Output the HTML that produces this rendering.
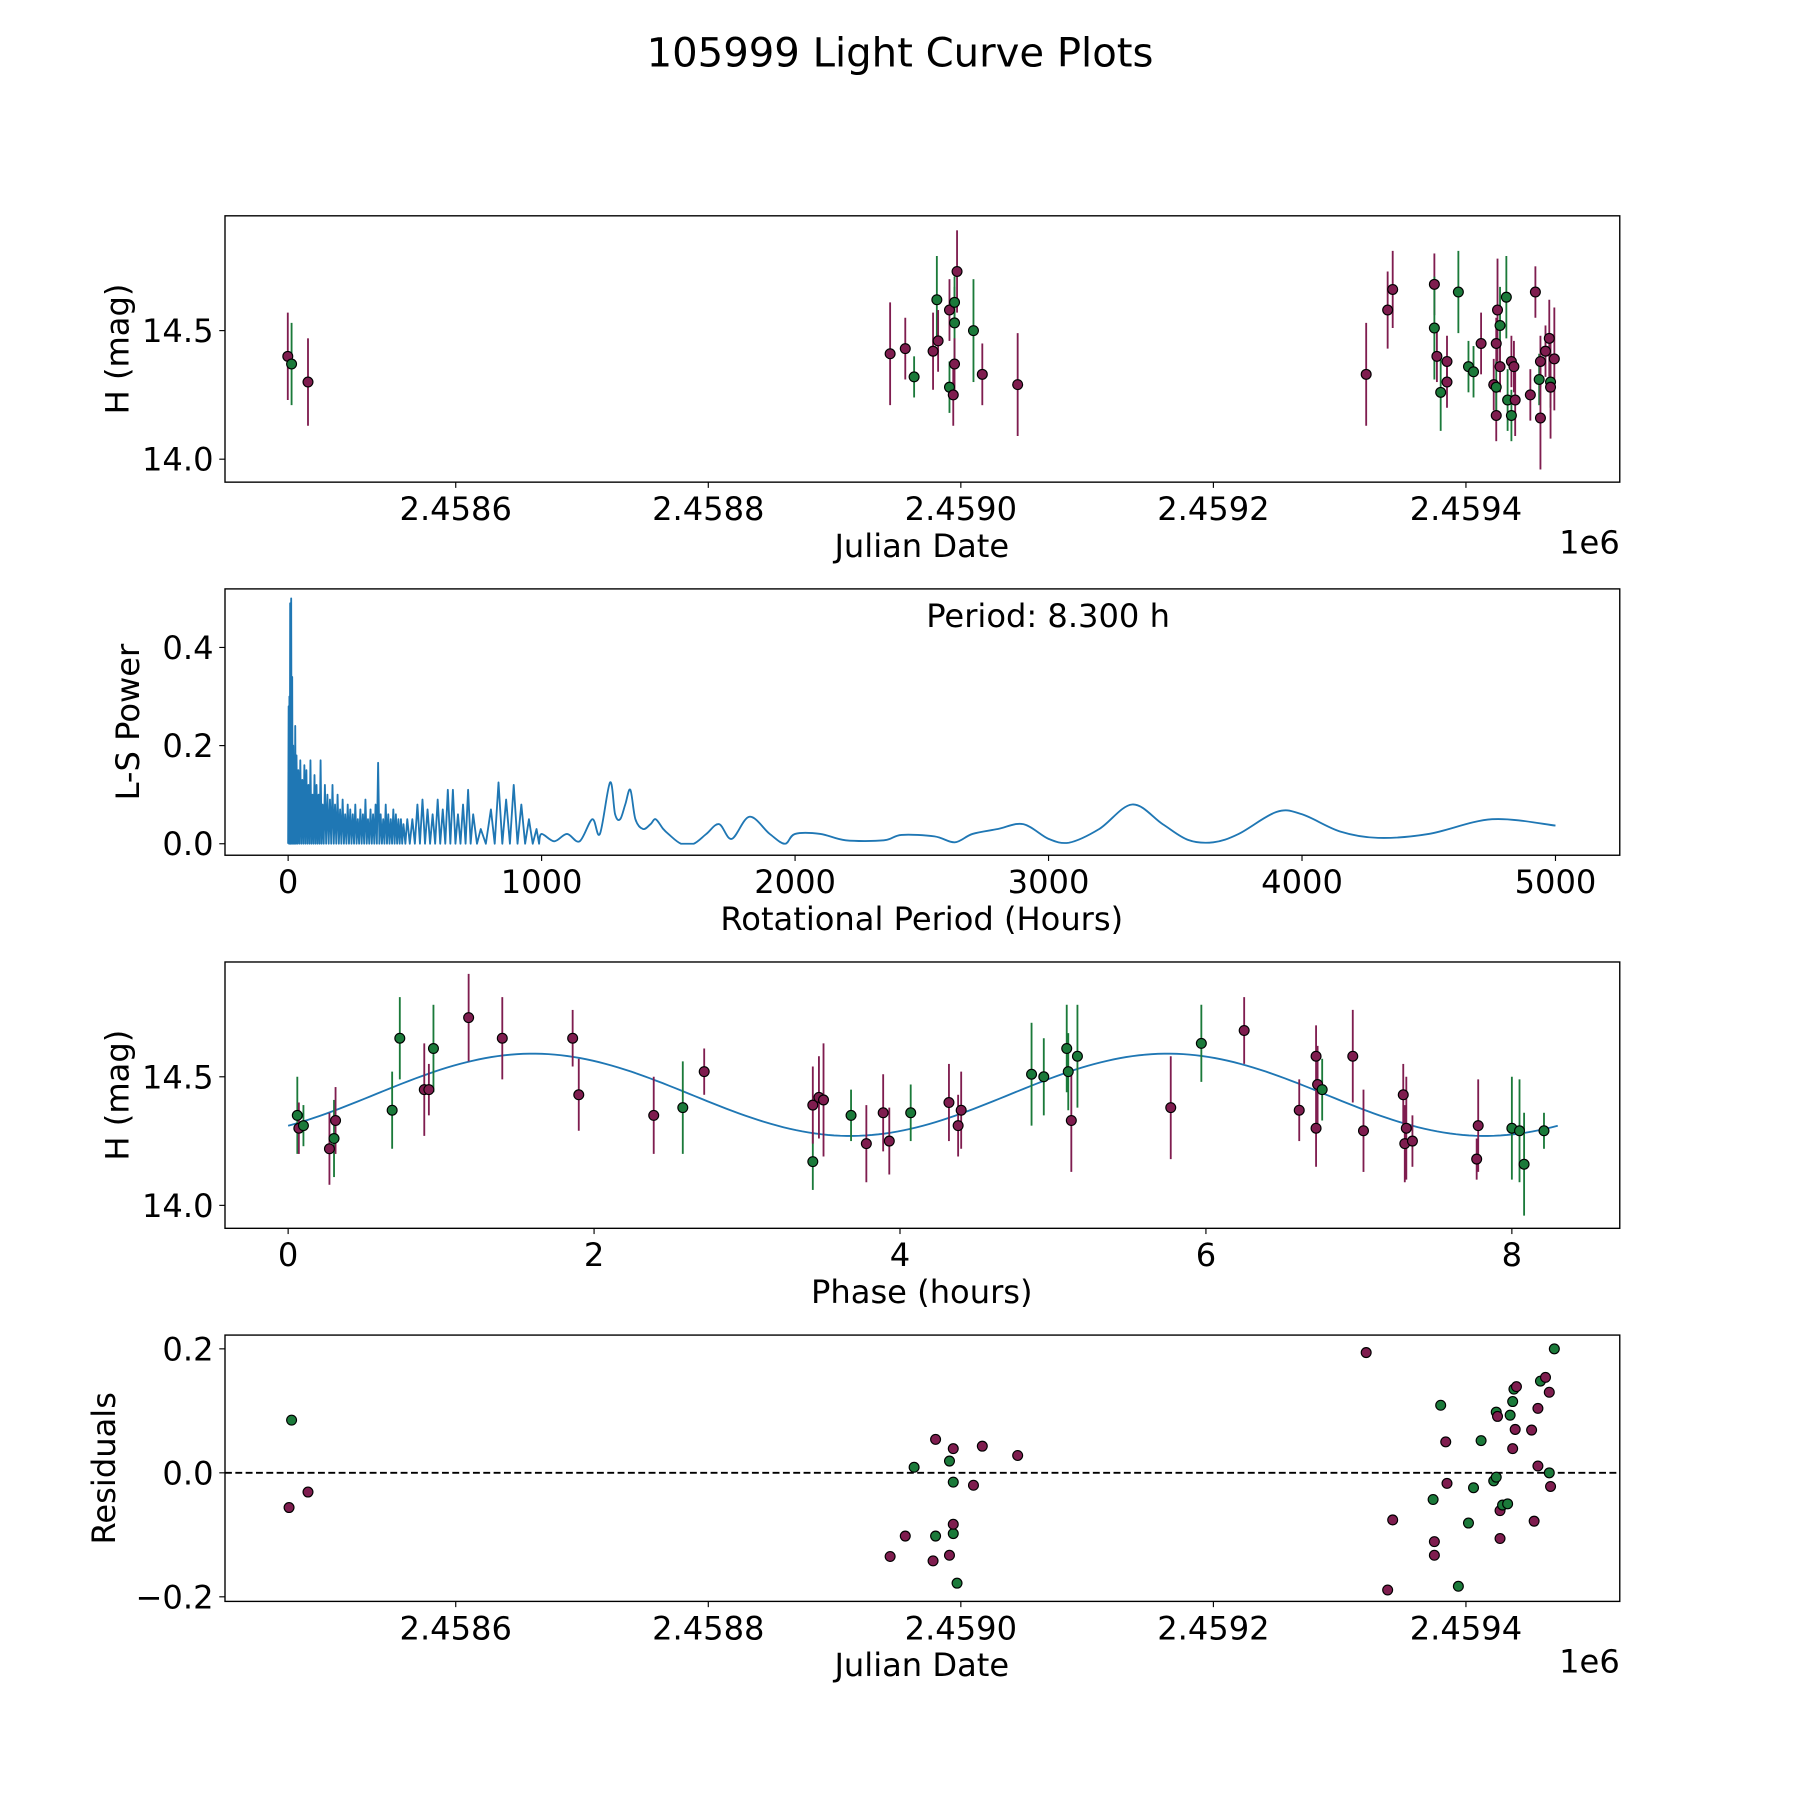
<!DOCTYPE html>
<html><head><meta charset="utf-8">
<style>
html,body{margin:0;padding:0;background:#fff;}
svg{display:block;font-family:"DejaVu Sans","Liberation Sans",sans-serif;}
</style></head>
<body>
<svg id="fig" width="1800" height="1800" viewBox="0 0 1568 1568" xmlns="http://www.w3.org/2000/svg">
<rect width="1568" height="1568" fill="#fff"/>
<text x="784" y="58" font-size="35" text-anchor="middle">105999 Light Curve Plots</text>
</svg>
<script>
// ---- data (days relative to JD 2458600) ----
const jdDays = [-133,-130,-117,344,356,363,378,381,382,391,391,394,395,395,395,397,410,417,445,721,738,742,775,775,777,780,785,785,794,802,806,812,822,824,824,824,825,827,827,832,833,836,836,838,839,851,855,858,859,859,863,866,867,867,870];
const jdMag = [14.40,14.37,14.30,14.41,14.43,14.32,14.42,14.62,14.46,14.58,14.28,14.25,14.61,14.53,14.37,14.73,14.50,14.33,14.29,14.33,14.58,14.66,14.68,14.51,14.40,14.26,14.38,14.30,14.65,14.36,14.34,14.45,14.29,14.45,14.17,14.28,14.58,14.52,14.36,14.63,14.23,14.17,14.38,14.36,14.23,14.25,14.65,14.31,14.16,14.38,14.42,14.47,14.30,14.28,14.39];
const jdErr = [0.17,0.16,0.17,0.2,0.12,0.08,0.15,0.17,0.12,0.12,0.1,0.12,0.1,0.14,0.1,0.16,0.2,0.12,0.2,0.2,0.15,0.15,0.12,0.2,0.1,0.15,0.1,0.1,0.16,0.1,0.1,0.12,0.1,0.1,0.1,0.1,0.2,0.15,0.1,0.16,0.12,0.1,0.1,0.1,0.14,0.1,0.1,0.1,0.2,0.1,0.1,0.15,0.1,0.2,0.2];
const jdBand = "mgmmmgmgmmgmggmmgmmmmmmgmgmmgggmmmmgmgmgggmmmmmgmmmmgmm";

const resDays = [-132,-130,-117,344,356,363,378,380,380,391,391,394,394,394,394,397,410,417,445,721,738,742,774,775,775,780,784,785,794,802,806,812,822,824,824,825,827,827,829,833,835,837,837,839,838,840,852,854,857,857,859,863,866,867,866,870];
const resVal = [-0.056,0.085,-0.031,-0.135,-0.102,0.009,-0.142,0.054,-0.102,-0.133,0.019,-0.098,-0.015,0.039,-0.083,-0.178,-0.02,0.043,0.028,0.194,-0.189,-0.076,-0.043,-0.111,-0.133,0.109,0.05,-0.017,-0.183,-0.081,-0.024,0.052,-0.013,-0.007,0.098,0.091,-0.106,-0.061,-0.052,-0.05,0.093,0.115,0.039,0.07,0.135,0.139,0.069,-0.078,0.104,0.011,0.148,0.154,0.0,-0.022,0.13,0.2];
const resBand = "mgmmmgmmgmgggmmgmmmmmmgmmgmmgggggggmmmggggmmgmmmmmgmgmmgm";

const phase = [0.06,0.07,0.10,0.27,0.30,0.31,0.68,0.73,0.89,0.92,0.95,1.18,1.40,1.86,1.90,2.39,2.58,2.72,3.43,3.43,3.47,3.50,3.68,3.78,3.89,3.93,4.07,4.32,4.38,4.40,4.86,4.94,5.09,5.10,5.12,5.16,5.77,5.97,6.25,6.61,6.72,6.72,6.73,6.76,6.96,7.03,7.29,7.30,7.31,7.35,7.77,7.78,8.00,8.05,8.08,8.21];
const phMag = [14.35,14.30,14.31,14.22,14.26,14.33,14.37,14.65,14.45,14.45,14.61,14.73,14.65,14.65,14.43,14.35,14.38,14.52,14.17,14.39,14.42,14.41,14.35,14.24,14.36,14.25,14.36,14.40,14.31,14.37,14.51,14.50,14.61,14.52,14.33,14.58,14.38,14.63,14.68,14.37,14.58,14.30,14.47,14.45,14.58,14.29,14.43,14.24,14.30,14.25,14.18,14.31,14.30,14.29,14.16,14.29];
const phErr = [0.15,0.1,0.08,0.14,0.15,0.13,0.15,0.16,0.18,0.1,0.17,0.17,0.16,0.11,0.14,0.15,0.18,0.09,0.11,0.15,0.16,0.22,0.1,0.15,0.15,0.13,0.11,0.15,0.12,0.15,0.2,0.15,0.17,0.15,0.2,0.2,0.2,0.15,0.13,0.12,0.12,0.15,0.15,0.12,0.18,0.16,0.12,0.15,0.2,0.1,0.08,0.18,0.2,0.2,0.2,0.07];
const phBand = "gmgmgmggmmgmmmmmgmgmmmgmmmgmmmggggmgmgmmmmmgmmmmmmmmgggg";

const fitMean = [14.43];
const fitAmp = [0.16];
const fitPeak = [1.6];
const fitPeriod = [8.3];

// periodogram spiky region: peak periods and powers (troughs at zero between)
const spikePeriods = [2,5,8,12,16,20,24,28,33,40,48,56,64,72,80,88,96,104,112,120,128,136,145,155,165,175,185,195,205,215,225,235,245,255,265,275,285,295,305,315,325,335,345,355,365,375,385,395,405,415,425,435,445,455,470,490,510,530,550,570,590,610,630,650,670,690,710,730,760,800,830,860,890,920,950,980];
const spikePowers = [0.28,0.3,0.49,0.5,0.34,0.2,0.17,0.24,0.18,0.15,0.17,0.13,0.16,0.15,0.12,0.17,0.1,0.14,0.12,0.1,0.17,0.08,0.12,0.1,0.09,0.12,0.08,0.1,0.07,0.09,0.06,0.08,0.07,0.06,0.08,0.05,0.07,0.06,0.09,0.05,0.07,0.06,0.08,0.165,0.06,0.05,0.08,0.06,0.05,0.07,0.06,0.05,0.05,0.04,0.05,0.05,0.08,0.09,0.07,0.06,0.09,0.07,0.11,0.11,0.06,0.08,0.11,0.06,0.03,0.07,0.125,0.09,0.12,0.08,0.05,0.03];
// smooth long-period region
const smoothPeriods = [1000,1050,1100,1150,1200,1230,1270,1290,1310,1330,1350,1370,1400,1430,1450,1480,1500,1550,1600,1650,1700,1750,1820,1900,1960,2000,2100,2200,2350,2420,2550,2630,2700,2800,2900,3000,3080,3200,3330,3450,3550,3650,3750,3900,4000,4150,4300,4500,4750,5000];
const smoothPowers = [0.02,0.005,0.02,0.005,0.05,0.02,0.125,0.06,0.05,0.08,0.11,0.05,0.03,0.04,0.05,0.03,0.02,0.0,0.0,0.02,0.04,0.01,0.055,0.02,0.0,0.02,0.02,0.007,0.007,0.018,0.015,0.003,0.02,0.03,0.04,0.01,0.002,0.03,0.08,0.04,0.008,0.003,0.02,0.065,0.06,0.025,0.012,0.02,0.05,0.037];

const jdTicks = ["2.4586","2.4588","2.4590","2.4592","2.4594"];
const jdTickDays = [0,200,400,600,800];
const magTicks = [14.0,14.5];
const lsXTicks = [0,1000,2000,3000,4000,5000];
const lsYTicks = [0,0.2,0.4];
const phXTicks = [0,2,4,6,8];
const resTicks = [-0.2,0,0.2];

// ---- drawing ----
const NS = "http://www.w3.org/2000/svg";
const svg = document.getElementById('fig');
const COL = {m:"#7f1d4f", g:"#1b7a3a"};
const FS = 28;
function mk(tag, attrs, parent){const e=document.createElementNS(NS,tag);for(const k in attrs)e.setAttribute(k,attrs[k]);(parent||svg).appendChild(e);return e;}
function txt(s,x,y,size,anchor,parent){const t=mk('text',{x:x,y:y,'font-size':size,'text-anchor':anchor},parent);t.textContent=s;return t;}
const L=196,R=1411;
function panel(name,top,bot){
  const g=mk('g',{});
  
  
  return {g:g,top:top,bot:bot};
}
function frame(p){const r=mk('rect',{x:L,y:p.top,width:R-L,height:p.bot-p.top,fill:'none',stroke:'#000','stroke-width':1.2},p.g);}
function xtick(p,x,label){mk('line',{x1:x,x2:x,y1:p.bot,y2:p.bot+5,stroke:'#000','stroke-width':1},p.g);const t=txt(label,x,p.bot+33,FS,'middle',p.g);}
function ytick(p,y,label){mk('line',{x1:L-5,x2:L,y1:y,y2:y,stroke:'#000','stroke-width':1},p.g);const t=txt(label,L-10,y+10,FS,'end',p.g);}
function xlabel(p,s){const t=txt(s,803,p.bot+65,FS,'middle',p.g);}
function ylabel(p,s,x){const cy=(p.top+p.bot)/2;const t=txt(s,x,cy,FS,'middle',p.g);t.setAttribute('transform','rotate(-90 '+x+' '+cy+')');}
function offset(p){const t=txt('1e6',R,p.bot+62,FS,'end',p.g);}
function dot(p,x,y,c){const d=mk('circle',{cx:x,cy:y,r:4.3,fill:COL[c]||COL.m,stroke:'#000','stroke-width':1},p.g);}
function ebar(p,x,y1,y2,c){const e=mk('line',{x1:x,x2:x,y1:y1,y2:y2,stroke:COL[c]||COL.m,'stroke-width':1.6},p.g);}

// panel 1
const p1=panel('light-curve-panel',188,420);
const jdX=d=>397+d*1.1;
const mag1=m=>288-(m-14.5)*224;
frame(p1);
jdTickDays.forEach((d,i)=>xtick(p1,jdX(d),jdTicks[i]));
magTicks.forEach(m=>ytick(p1,mag1(m),m.toFixed(1)));
for(let i=0;i<jdDays.length;i++){const x=jdX(jdDays[i]);ebar(p1,x,mag1(jdMag[i]+jdErr[i]),mag1(jdMag[i]-jdErr[i]),jdBand[i]);}
for(let i=0;i<jdDays.length;i++){dot(p1,jdX(jdDays[i]),mag1(jdMag[i]),jdBand[i]);}
xlabel(p1,'Julian Date');ylabel(p1,'H (mag)',112);offset(p1);

// panel 2
const p2=panel('periodogram-panel',513,745);
const lsX=h=>251+h*0.2208;
const lsY=v=>735-v*427.5;
frame(p2);
lsXTicks.forEach(v=>xtick(p2,lsX(v),String(v)));
lsYTicks.forEach(v=>ytick(p2,lsY(v),v.toFixed(1)));
let dpath='M'+lsX(0).toFixed(2)+' '+lsY(0).toFixed(2);
for(let i=0;i<spikePeriods.length;i++){
  const prev = i===0?0:spikePeriods[i-1];
  const mid = (prev+spikePeriods[i])/2;
  if(i>0) dpath+='L'+lsX(mid).toFixed(2)+' '+lsY(0).toFixed(2);
  dpath+='L'+lsX(spikePeriods[i]).toFixed(2)+' '+lsY(spikePowers[i]).toFixed(2);
}
dpath+='L'+lsX(990).toFixed(2)+' '+lsY(0).toFixed(2);
// smooth part: Catmull-Rom spline through vertices
const sp=[[lsX(990),lsY(0)]].concat(smoothPeriods.map((p,i)=>[lsX(p),lsY(smoothPowers[i])]));
for(let i=0;i<sp.length-1;i++){
  const p0=sp[Math.max(0,i-1)],pa=sp[i],pb=sp[i+1],p3=sp[Math.min(sp.length-1,i+2)];
  const c1x=pa[0]+(pb[0]-p0[0])/6,c1y=pa[1]+(pb[1]-p0[1])/6;
  const c2x=pb[0]-(p3[0]-pa[0])/6,c2y=pb[1]-(p3[1]-pa[1])/6;
  dpath+='C'+c1x.toFixed(2)+' '+Math.min(735,c1y).toFixed(2)+' '+c2x.toFixed(2)+' '+Math.min(735,c2y).toFixed(2)+' '+pb[0].toFixed(2)+' '+pb[1].toFixed(2);
}
const ln=mk('path',{d:dpath,fill:'none',stroke:'#1f77b4','stroke-width':1.6,'stroke-linejoin':'round'},p2.g);


const pt=txt('Period: 8.300 h',913,546,FS,'middle',p2.g);


xlabel(p2,'Rotational Period (Hours)');ylabel(p2,'L-S Power',121);

// panel 3
const p3=panel('phase-folded-panel',838,1070);
const phX=v=>251+v*133.25;
const mag3=m=>938-(m-14.5)*224;
frame(p3);
phXTicks.forEach(v=>xtick(p3,phX(v),String(v)));
magTicks.forEach(m=>ytick(p3,mag3(m),m.toFixed(1)));
let fp='';
for(let k=0;k<=200;k++){const ph=fitPeriod[0]*k/200;const m=fitMean[0]+fitAmp[0]*Math.cos(4*Math.PI*(ph-fitPeak[0])/fitPeriod[0]);fp+=(k?'L':'M')+phX(ph).toFixed(2)+' '+mag3(m).toFixed(2);}
const fl=mk('path',{d:fp,fill:'none',stroke:'#1f77b4','stroke-width':1.6},p3.g);


for(let i=0;i<phase.length;i++){const x=phX(phase[i]);ebar(p3,x,mag3(phMag[i]+phErr[i]),mag3(phMag[i]-phErr[i]),phBand[i]);}
for(let i=0;i<phase.length;i++){dot(p3,phX(phase[i]),mag3(phMag[i]),phBand[i]);}
xlabel(p3,'Phase (hours)');ylabel(p3,'H (mag)',112);

// panel 4
const p4=panel('residuals-panel',1163,1395);
const resY=v=>1283-v*540;
frame(p4);
jdTickDays.forEach((d,i)=>xtick(p4,jdX(d),jdTicks[i]));
resTicks.forEach(v=>ytick(p4,resY(v),v===0?'0.0':(v<0?'\u2212':'')+Math.abs(v).toFixed(1)));
const zl=mk('line',{x1:L,x2:R,y1:resY(0),y2:resY(0),stroke:'#000','stroke-width':1.6,'stroke-dasharray':'6,3'},p4.g);


for(let i=0;i<resDays.length;i++){dot(p4,jdX(resDays[i]),resY(resVal[i]),resBand[i]);}
xlabel(p4,'Julian Date');ylabel(p4,'Residuals',100);offset(p4);
</script>
</body></html>
